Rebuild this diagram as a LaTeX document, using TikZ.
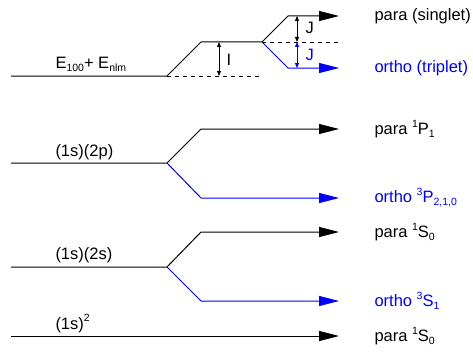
\documentclass[tikz,border=0pt]{standalone}
\usepackage{fontspec}
\setmainfont{Liberation Sans}
\usetikzlibrary{arrows.meta}
\newcommand{\sps}[1]{\raisebox{0.4em}{\fontsize{10.5}{11}\selectfont #1}}
\newcommand{\sbs}[1]{\raisebox{-0.24em}{\fontsize{10.5}{11}\selectfont #1}}
\begin{document}
\begin{tikzpicture}[x=1pt,y=-1pt,
  every path/.style={line width=1pt},
  big/.style={-{Triangle[length=20pt,width=10pt]}},
  gap/.style={{Triangle[length=5pt,width=4pt]}-{Triangle[length=5pt,width=4pt]},line width=0.8pt},
  dsh/.style={dash pattern=on 4pt off 4pt,line width=0.8pt},
  lbl/.style={anchor=base west,inner sep=0pt,font=\fontsize{16.5}{18}\selectfont}]
\useasboundingbox (0,0) rectangle (473,353);
% top: E100 + Enlm
\coordinate (a0) at (11,76);
\coordinate (a1) at (167,76);
\coordinate (a2) at (201,42);
\coordinate (a3) at (262,42);
\coordinate (a4) at (288,16);
\coordinate (a5) at (339,16);
\coordinate (a6) at (288,68);
\coordinate (a7) at (339,68);
\coordinate (d1) at (262,76);
\coordinate (d2) at (340,42);
\draw[big] (a0)--(a1)--(a2)--(a3)--(a4)--(a5);
\draw[big,blue] (a3)--(a6)--(a7);
\draw[dsh] (a1)--(d1);
\draw[dsh] (a3)--(d2);
\coordinate (i1) at (219,42);
\coordinate (i2) at (219,76);
\draw[gap] (i1)--(i2);
\coordinate (j1) at (297,16);
\coordinate (j2) at (297,42);
\coordinate (j3) at (297,68);
\draw[gap] (j1)--(j2);
\draw[gap,blue] (j2)--(j3);
\node[lbl] (tE) at (55,68) {E\sbs{100}+ E\sbs{nlm}};
\node[lbl] (tI) at (226,66) {I};
\node[lbl] (tJ1) at (305,34) {J};
\node[lbl,blue] (tJ2) at (305,60) {J};
\node[lbl] (tps) at (374,21) {para (singlet)};
\node[lbl,blue] (tot) at (374,72) {ortho (triplet)};
% (1s)(2p)
\coordinate (b0) at (11,163);
\coordinate (b1) at (167,163);
\coordinate (b2) at (201,129);
\coordinate (b3) at (339,129);
\coordinate (b4) at (201,198);
\coordinate (b5) at (339,198);
\draw[big] (b0)--(b1)--(b2)--(b3);
\draw[big,blue] (b1)--(b4)--(b5);
\node[lbl] (t2p) at (55,156) {(1s)(2p)};
\node[lbl] (tpP) at (374,134) {para \sps{1}P\sbs{1}};
\node[lbl,blue] (toP) at (374,202) {ortho \sps{3}P\sbs{2,1,0}};
% (1s)(2s)
\coordinate (c0) at (11,267);
\coordinate (c1) at (167,267);
\coordinate (c2) at (201,232);
\coordinate (c3) at (339,232);
\coordinate (c4) at (201,301);
\coordinate (c5) at (339,301);
\draw[big] (c0)--(c1)--(c2)--(c3);
\draw[big,blue] (c1)--(c4)--(c5);
\node[lbl] (t2s) at (55,259) {(1s)(2s)};
\node[lbl] (tpS) at (374,237) {para \sps{1}S\sbs{0}};
\node[lbl,blue] (toS) at (374,306) {ortho \sps{3}S\sbs{1}};
% (1s)^2
\coordinate (g0) at (11,336);
\coordinate (g1) at (339,336);
\draw[big] (g0)--(g1);
\node[lbl] (t1s) at (55,329) {(1s)\raisebox{0.47em}{\fontsize{10.5}{11}\selectfont 2}};
\node[lbl] (tpG) at (374,341) {para \sps{1}S\sbs{0}};
\end{tikzpicture}
\end{document}
